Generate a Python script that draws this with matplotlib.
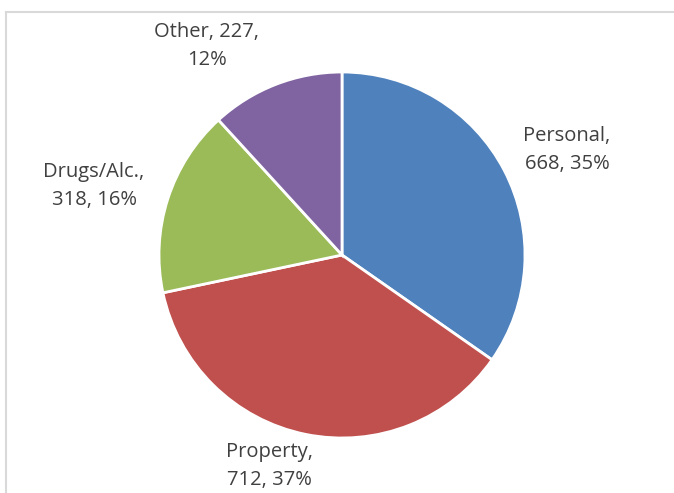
import matplotlib.pyplot as plt
from matplotlib.lines import Line2D

labels = ['Personal', 'Property', 'Drugs/Alc.', 'Other']
values = [668, 712, 318, 227]
percents = [35, 37, 16, 12]
colors = ['#4F81BD', '#C0504D', '#9BBB59', '#8064A2']

# label centres in pixel coords (x right, y up)
label_pos = [(567, 343), (269, 27), (94, 307), (207, 447)]

plt.rcParams['font.family'] = ['Open Sans', 'DejaVu Sans']

fig = plt.figure(figsize=(6.74, 4.93), dpi=100)
ax = fig.add_axes([0, 0, 1, 1])

ax.pie(values, colors=colors, startangle=90, counterclock=False,
       center=(342, 238), radius=183, frame=True,
       wedgeprops=dict(edgecolor='white', linewidth=2))
ax.set_xlim(0, 674)
ax.set_ylim(0, 493)
ax.set_aspect('equal')
ax.axis('off')

for lab, v, pct, (x, y) in zip(labels, values, percents, label_pos):
    if lab == 'Other':
        txt = '%s, %d,\n%d%%' % (lab, v, pct)
    else:
        txt = '%s,\n%d, %d%%' % (lab, v, pct)
    ax.text(x, y, txt, ha='center', va='center', fontsize=14.5,
            color='#404040', linespacing=1.5)

# chart area border
fig.add_artist(Line2D([5.5 / 674, 5.5 / 674], [0, 1 - 11.5 / 493],
                      transform=fig.transFigure, color='#D9D9D9', lw=1.5))
fig.add_artist(Line2D([5.5 / 674, 1], [1 - 11.5 / 493, 1 - 11.5 / 493],
                      transform=fig.transFigure, color='#D9D9D9', lw=1.5))

plt.savefig('out.png', dpi=100)
